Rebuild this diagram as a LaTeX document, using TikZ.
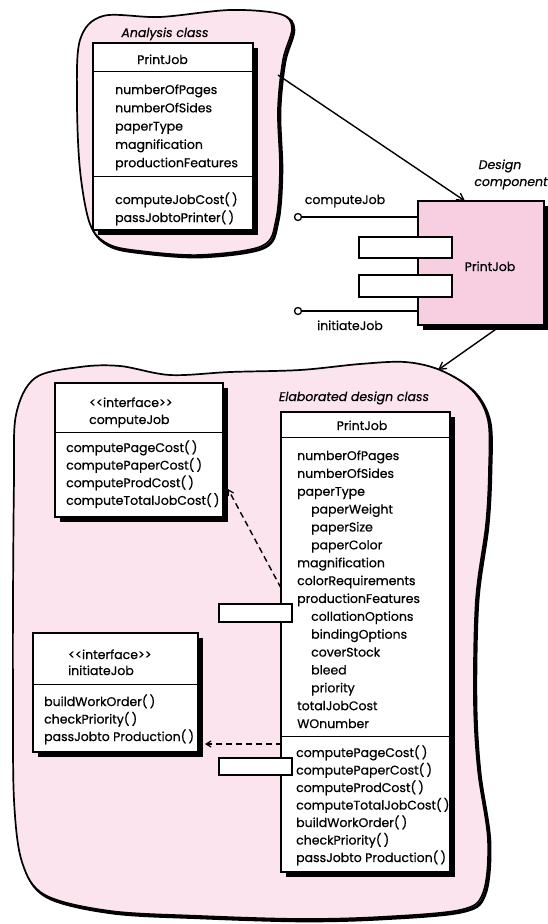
\documentclass[tikz,border=0pt]{standalone}
\usepackage{fontspec}
\setmainfont{Poppins}[Ligatures=TeXOff, FakeBold=0.6]
\usetikzlibrary{arrows.meta,shadows}
\definecolor{blobpink}{RGB}{251,228,238}
\definecolor{comppink}{RGB}{248,206,225}
\begin{document}
\begin{tikzpicture}[x=1pt,y=-1pt,
  txt/.style={inner sep=0pt, anchor=base west, font=\fontsize{12.5}{15}\selectfont},
  ctxt/.style={inner sep=0pt, anchor=base, font=\fontsize{12.5}{15}\selectfont},
  itxt/.style={inner sep=0pt, anchor=base, font=\fontsize{12.5}{15}\selectfont\itshape},
  boxshadow/.style={drop shadow={shadow xshift=4.5pt, shadow yshift=-4.5pt, opacity=1, fill=black}},
  classbox/.style={draw, fill=white, line width=1.6pt, inner sep=0pt, boxshadow},
  portbox/.style={draw, fill=white, line width=1.6pt, inner sep=0pt},
  sepline/.style={line width=1.3pt},
  conn/.style={line width=1.4pt, -{Straight Barb[length=7pt,width=8pt,line width=1.3pt]}},
  dconn/.style={line width=1.4pt, dash pattern=on 6pt off 4pt, -{Straight Barb[length=5pt,width=6pt,line width=1.2pt]}},
  lolli/.style={circle, draw, fill=white, inner sep=0pt, minimum size=7pt, line width=1.3pt},
  blobline/.style={line width=1.7pt},
  blobshadow/.style={line width=3pt}
]
\useasboundingbox (0,0) rectangle (547,924);

% ---------- top blob (analysis class)
\def\blobApath{plot[smooth cycle, tension=0.55] coordinates {(80,40) (103,16) (160,17) (230,10) (280,14) (292,28) (283,60) (278,110) (280,170) (276,220) (262,246) (200,255) (140,251) (108,244) (90,224) (80,170) (77,100)}}
\draw[blobshadow, shift={(1.8,1.8)}] \blobApath;
\fill[blobpink] \blobApath;
\draw[blobline] \blobApath;

% ---------- bottom blob (elaborated design class)
\def\blobBpath{plot[smooth cycle, tension=0.55] coordinates {(16,415) (35,378) (80,367) (120,366) (170,375) (230,372) (300,370) (360,364) (405,362) (440,370) (472,390) (488,420) (489,470) (486,525) (476,600) (474,700) (478,770) (488,840) (483,893) (460,910) (380,917) (300,919) (200,916) (110,911) (45,895) (22,862) (14,800) (13,700) (13,600) (14,480)}}
\draw[blobshadow, shift={(1.8,1.8)}] \blobBpath;
\fill[blobpink] \blobBpath;
\draw[blobline] \blobBpath;

% ---------- analysis class
\node[itxt] (analab) at (165,37) {Analysis class};
\node[classbox, minimum width=160pt, minimum height=187pt] (ana) at (173,136.5) {};
\draw[sepline] ([yshift=-29pt]ana.north west) -- ([yshift=-29pt]ana.north east);
\draw[sepline] ([yshift=-134pt]ana.north west) -- ([yshift=-134pt]ana.north east);
\node[txt] (ananame) at (137,64) {PrintJob};
\foreach \t [count=\i from 0] in {numberOfPages,numberOfSides,paperType,magnification,productionFeatures}
  \node[txt] (anaattr\i) at (115,94+18.3*\i) {\t};
\foreach \t [count=\i from 0] in {computeJobCost(\,),passJobtoPrinter(\,)}
  \node[txt] (anameth\i) at (115,204+18*\i) {\t};

% ---------- design component
\node[itxt] (deslab1) at (500,169) {Design};
\node[itxt] (deslab2) at (511,186) {component};
\node[draw, fill=comppink, line width=1.6pt, inner sep=0pt, boxshadow, minimum width=126pt, minimum height=124pt] (comp) at (481,263) {};
\node[ctxt] (compname) at (490,271) {PrintJob};
\node[portbox, minimum width=93pt, minimum height=21pt] (cport1) at (405.5,247.5) {};
\node[portbox, minimum width=93pt, minimum height=22pt] (cport2) at (405.5,286) {};
\node[lolli] (cjc) at (298,217) {};
\node[lolli] (cij) at (298,311) {};
\draw[line width=1.4pt] (cjc) -- (cjc -| comp.west);
\draw[line width=1.4pt] (cij) -- (cij -| comp.west);
\node[ctxt] (cjclab) at (345,204) {computeJob};
\node[ctxt] (cijlab) at (350,330) {initiateJob};

% connectors between the levels
\coordinate (aedge) at (278,75);
\coordinate (comptop) at (465,201);
\draw[conn] (aedge) -- (comptop);
\coordinate (compbot) at (499,327);
\coordinate (bblobtop) at (438,370);
\draw[conn] (compbot) -- (bblobtop);

% ---------- elaborated design class
\node[itxt] (elablab) at (354,401) {Elaborated design class};
\node[classbox, minimum width=169pt, minimum height=460pt] (edc) at (365.5,642) {};
\draw[sepline] ([yshift=-26pt]edc.north west) -- ([yshift=-26pt]edc.north east);
\draw[sepline] ([yshift=-325pt]edc.north west) -- ([yshift=-325pt]edc.north east);
\node[ctxt] (edcname) at (362,430) {PrintJob};
\foreach \t/\dx [count=\i from 0] in {numberOfPages/0,numberOfSides/0,paperType/0,paperWeight/14,paperSize/14,paperColor/14,magnification/0,colorRequirements/0,productionFeatures/0,collationOptions/14,bindingOptions/14,coverStock/14,bleed/14,priority/14,totalJobCost/0,WOnumber/0}
  \node[txt] (edcattr\i) at (297+\dx,460+17.87*\i) {\t};
\foreach \t [count=\i from 0] in {computePageCost(\,),computePaperCost(\,),computeProdCost(\,),computeTotalJobCost(\,),buildWorkOrder(\,),checkPriority(\,),passJobto Production(\,)}
  \node[txt] (edcmeth\i) at (296,757+17.5*\i) {\t};
\node[portbox, minimum width=73pt, minimum height=18pt] (eport1) at (255.5,613) {};
\node[portbox, minimum width=73pt, minimum height=17pt] (eport2) at (255.5,766.5) {};

% ---------- interface computeJob
\node[classbox, minimum width=168pt, minimum height=134pt] (icj) at (139,450) {};
\draw[sepline] ([yshift=-50pt]icj.north west) -- ([yshift=-50pt]icj.north east);
\node[txt] (icjst) at (89,407) {<<interface>>};
\node[txt] (icjname) at (89,424) {computeJob};
\foreach \t [count=\i from 0] in {computePageCost(\,),computePaperCost(\,),computeProdCost(\,),computeTotalJobCost(\,)}
  \node[txt] (icjmeth\i) at (66,452+17.6*\i) {\t};

% ---------- interface initiateJob
\node[classbox, minimum width=165pt, minimum height=119pt] (iij) at (115.5,692.5) {};
\draw[sepline] ([yshift=-52pt]iij.north west) -- ([yshift=-52pt]iij.north east);
\node[txt] (iijst) at (68,659) {<<interface>>};
\node[txt] (iijname) at (68,675) {initiateJob};
\foreach \t [count=\i from 0] in {buildWorkOrder(\,),checkPriority(\,),passJobto Production(\,)}
  \node[txt] (iijmeth\i) at (44,706+17.5*\i) {\t};

% dashed realisation arrows
\coordinate (edcA) at (281,588);
\coordinate (icjtip) at (228,489);
\draw[dconn] (edcA) -- (icjtip);
\coordinate (edcB) at (282,744);
\coordinate (iijtip) at (205,744);
\draw[dconn] (edcB) -- (iijtip);
\end{tikzpicture}
\end{document}
